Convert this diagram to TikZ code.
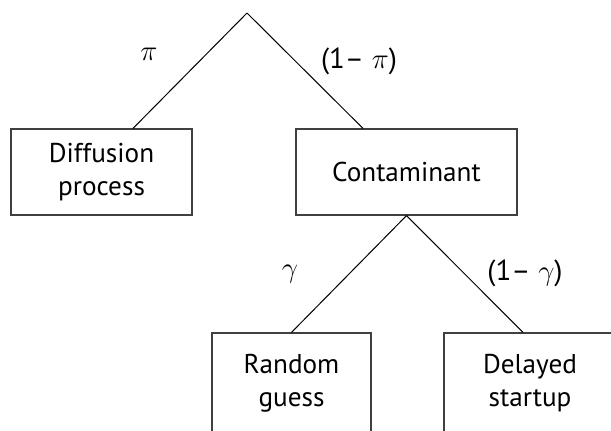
\documentclass[tikz,border=0pt]{standalone}
\usepackage{fontspec}
\setmainfont{PT Sans}
\tikzstyle{probbox} = [rectangle,
draw=black!75,
line width=0.6pt,
minimum height=43pt,
inner sep=0pt,
text centered,
font=\fontsize{13.6}{16.5}\selectfont]
\tikzstyle{branch} = [line width=0.5pt]
\tikzstyle{prob} = [anchor=base, inner sep=0pt, font=\fontsize{14.5}{16}\selectfont]

\begin{document}
\begin{tikzpicture}[x=0.5pt, y=0.5pt]
		\useasboundingbox (0,0) rectangle (611,430);
		\coordinate (root) at (247,417);
		\node (diff) [probbox, minimum width=90.5pt, text width=80pt] at (101.5,258) {Diffusion\\process};
		\node (cont) [probbox, minimum width=110.5pt] at (406.5,258) {Contaminant};
		\node (guess) [probbox, minimum width=79.5pt, minimum height=50pt, text width=70pt] at (291.5,47) {Random\\guess};
		\node (delay) [probbox, minimum width=86pt, minimum height=50pt, text width=70pt] at (530,47) {Delayed\\startup};
		
		\draw [branch](root) -- ([xshift=15.75pt]diff.north);
		\draw [branch](root) -- ([xshift=-21.75pt]cont.north);
		\draw [branch](cont.south) -- (guess.north);
		\draw [branch](cont.south) -- ([xshift=-3.5pt]delay.north);
		
		\node (pi) [prob] at (149,370) {$\pi$};
		\node (onepi) [prob] at (359,362) {(1– $\pi$)};
		\node (gam) [prob] at (290,153) {$\gamma$};
		\node (onegam) [prob] at (525,150) {(1– $\gamma$)};
	\end{tikzpicture}
\end{document}
